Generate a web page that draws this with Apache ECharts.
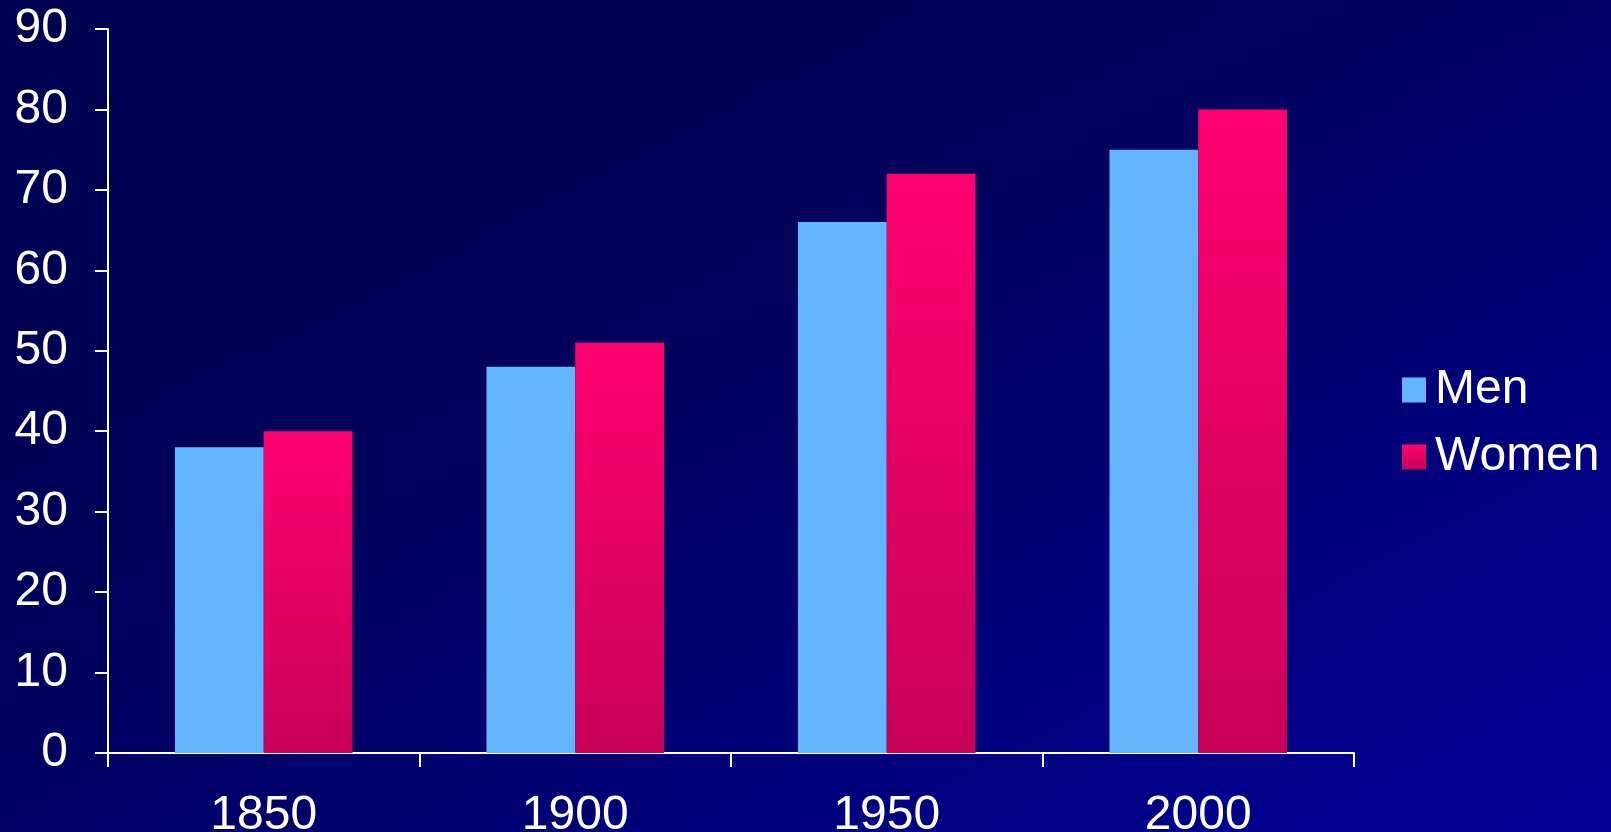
<!DOCTYPE html>
<html>
<head>
<meta charset="utf-8">
<script src="https://cdn.jsdelivr.net/npm/echarts@6/dist/echarts.min.js"></script>
<style>
html,body{margin:0;padding:0;}
#chart{width:1611px;height:832px;background:linear-gradient(to bottom right,#000050 0%,#00005a 40%,#000098 100%);}
</style>
</head>
<body>
<div id="chart"></div>
<script>
const categories = ['1850', '1900', '1950', '2000'];
const menValues = [38, 48, 66, 75];
const womenValues = [40, 51, 72, 80];
const yTicks = { min: 0, max: 90, interval: 10 };

const womenGrad = new echarts.graphic.LinearGradient(0, 0, 0, 1, [
  { offset: 0, color: '#ff0070' },
  { offset: 1, color: '#c60058' }
]);

const chart = echarts.init(document.getElementById('chart'), null, { renderer: 'canvas' });
chart.setOption({
  backgroundColor: 'transparent',
  animation: false,
  textStyle: { fontFamily: 'Liberation Sans, Arial, sans-serif' },
  grid: { left: 108, right: 257, top: 29, bottom: 79, containLabel: false, outerBoundsMode: 'none' },
  legend: {
    orient: 'vertical',
    left: 1397,
    top: 361,
    itemWidth: 24,
    itemHeight: 25,
    itemGap: 19,
    icon: 'rect',
    textStyle: { color: '#ffffff', fontSize: 48, fontFamily: 'Liberation Sans, Arial, sans-serif', padding: [0, 0, 0, 4] },
    data: ['Men', 'Women']
  },
  xAxis: {
    type: 'category',
    data: categories,
    axisLine: { show: true, lineStyle: { color: '#ffffff', width: 2 } },
    axisTick: { show: true, length: 14, alignWithLabel: false, lineStyle: { color: '#ffffff', width: 2 } },
    axisLabel: { color: '#ffffff', fontSize: 48, margin: 39 },
    splitLine: { show: false }
  },
  yAxis: {
    type: 'value',
    min: yTicks.min,
    max: yTicks.max,
    interval: yTicks.interval,
    axisLine: { show: true, lineStyle: { color: '#ffffff', width: 2 } },
    axisTick: { show: true, length: 13, lineStyle: { color: '#ffffff', width: 2 } },
    axisLabel: { color: '#ffffff', fontSize: 48, margin: 40 },
    splitLine: { show: false }
  },
  series: [
    {
      name: 'Men',
      type: 'bar',
      data: menValues,
      barGap: '0%',
      barCategoryGap: '43%',
      itemStyle: { color: '#63b5ff' }
    },
    {
      name: 'Women',
      type: 'bar',
      data: womenValues,
      barGap: '0%',
      barCategoryGap: '43%',
      itemStyle: { color: womenGrad }
    }
  ]
});
</script>
</body>
</html>
